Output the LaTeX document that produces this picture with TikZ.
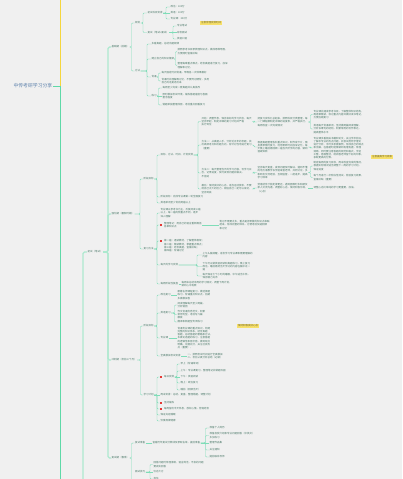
\documentclass[tikz,border=0pt]{standalone}
\usepackage{fontspec}
\newfontfamily\cjkf{Noto Sans CJK SC}
\usetikzlibrary{calc}
\definecolor{bgc}{HTML}{F0F0F0}
\definecolor{txt}{HTML}{4A7868}
\definecolor{lnk}{HTML}{7FDDB8}
\definecolor{trunk}{HTML}{5FD9A8}
\definecolor{pale}{HTML}{ADE9CF}
\definecolor{ylw}{HTML}{F5D63D}
\definecolor{noteY}{HTML}{F7E06A}
\definecolor{noteT}{HTML}{6E6432}
\definecolor{rootc}{HTML}{5E82AC}
\definecolor{mk}{HTML}{E53935}
\newcommand\smf{\cjkf\fontsize{2.5}{3.3}\selectfont}
\newcommand\lk[3]{\draw[conn] let \p1=(#1.east), \p2=(#3.west) in (\p1) -- (#2pt,\y1) -- (#2pt,\y2) -- (\p2);}
\newcommand\lkP[3]{\draw[paleline] let \p1=(#1.east), \p2=(#3.west) in (\p1) -- (#2pt,\y1) -- (#2pt,\y2) -- (\p2);}
\newcommand\lkS[2]{\draw[conn] (#1.east) -- (#2.west);}
\tikzset{
 tx/.style={font=\smf, text=txt, inner sep=0.3pt, anchor=west, align=left},
 conn/.style={draw=lnk, line width=0.4pt, rounded corners=1pt},
 yel/.style={font=\smf, fill=noteY, text=noteT, inner xsep=1.3pt, inner ysep=0.9pt},
 redsq/.style={fill=mk, minimum size=2.4pt, inner sep=0pt},
 rootst/.style={font=\cjkf\fontsize{4.85}{5.2}\selectfont, text=rootc, inner sep=0.3pt, anchor=west},
 paleline/.style={draw=pale, line width=1.3pt, rounded corners=1.5pt},
}
\begin{document}
\begin{tikzpicture}[x=1pt,y=-1pt]
\useasboundingbox (0,0) rectangle (402,479);
\fill[bgc] (0,0) rectangle (402,479);
\clip (0,0) rectangle (402,479);

% root and trunk
\node[rootst] (root) at (13,86) {中传考研学习分享};
\coordinate (ytop) at (60,0);
\coordinate (gbot) at (60,479);
\draw[draw=ylw, line width=0.8pt] (ytop) -- (ytop |- root.east);
\draw[draw=trunk, line width=0.8pt] (root.east) -- (gbot |- root.east) -- (gbot);

% level P and A
\node[tx] (P) at (87,252) {初试（笔试）};
\coordinate (pbot) at (83,479);
\draw[paleline] (pbot) |- (P.west);
\node[tx] (A1) at (111,47) {基础期（前期）};
\node[tx] (A2) at (111,214) {强化期（暑假时期）};
\node[tx] (A3) at (111,360) {冲刺期（考前三个月）};
\node[tx] (A4) at (111,458) {复试期（春季）};
\lkP{P}{108}{A1}
\lkP{P}{108}{A2}
\lkP{P}{108}{A3}
\lkP{P}{108}{A4}

% ===== A1 =====
\node[tx] (B1) at (134.5,23) {规划};
\node[tx] (B2) at (134.5,71) {方法};
\lk{A1}{131.5}{B1}
\lk{A1}{131.5}{B2}
\node[tx] (C1) at (147,13) {初试科目安排};
\node[tx] (C2) at (147,32.5) {复试（笔试+面试）};
\lk{B1}{143}{C1}
\lk{B1}{143}{C2}
\node[tx] (C1a) at (170,7) {政治：100分};
\node[tx] (C1b) at (170,13) {英语：100分};
\node[tx] (C1c) at (170,19) {专业课：300分};
\lk{C1}{166}{C1a}
\lkS{C1}{C1b}
\lk{C1}{166}{C1c}
\node[tx] (C2a) at (176.5,26) {专业笔试};
\node[tx] (C2b) at (176.5,32.5) {综合面试};
\node[tx] (C2c) at (176.5,39) {英语口语};
\lk{C2}{173}{C2a}
\lkS{C2}{C2b}
\lk{C2}{173}{C2c}
\node[yel] (N1) at (211,23) {注意合理安排时间};

\node[tx] (D1) at (151,44) {多看真题，总结出题规律};
\node[tx] (D2) at (151,59) {建立自己的知识框架};
\node[tx] (D3) at (151,77) {背诵};
\node[tx] (D4) at (151,96) {练习};
\lk{B2}{147}{D1}
\lk{B2}{147}{D2}
\lk{B2}{147}{D3}
\lk{B2}{147}{D4}
\node[tx] (D2a) at (177,51.5) {按照参考书目录梳理知识点，做成思维导图，\\方便随时查漏补缺};
\node[tx] (D2b) at (177,65.5) {整理每章重点难点，结合真题进行复习，加深\\理解和记忆。};
\lk{D2}{175.5}{D2a}
\lk{D2}{175.5}{D2b}
\node[tx] (D3a) at (161,73) {每天固定时间背诵，早晚各一次效果最好};
\node[tx] (D3b) at (161,81) {背诵时先理解再记忆，不要死记硬背，多用\\自己的话复述出来};
\lk{D3}{158.5}{D3a}
\lk{D3}{158.5}{D3b}
\node[tx] (D4a) at (162,88) {每周至少完成一套真题并认真批改};
\node[tx] (D4b) at (162,96) {限时模拟考试环境，锻炼答题速度与卷面\\整洁程度};
\node[tx] (D4c) at (162,105) {错题单独整理成册，考前重点回看复习};
\lk{D4}{158.5}{D4a}
\lkS{D4}{D4b}
\lk{D4}{158.5}{D4c}

% ===== A2 =====
\node[tx] (F1) at (143,179) {阶段目标};
\node[tx] (F2) at (143,249) {复习方法};
\lk{A2}{140}{F1}
\lk{A2}{140}{F2}
\node[tx] (G1) at (160,155) {目标、方法、时间、计划安排};
\node[tx] (G2) at (160,197) {阶段目标：完成专业课第一轮全面复习};
\node[tx] (G3) at (160,203) {英语单词至少背完两遍以上};
\lk{F1}{157}{G1}
\lk{F1}{157}{G2}
\lk{F1}{157}{G3}
\node[tx] (H1) at (201,121.5) {开始：调整作息，保持良好的学习状态，每天\\坚持早起，制定详细的复习计划并严格\\执行到位};
\node[tx] (H2) at (201,145) {方法一：从真题入手，分析近五年的考题，找\\出高频考点和出题方向，有针对性地进行复习\\（重要）};
\node[tx] (H3) at (201,173) {方法二：每天整理当天的学习内容，写学习日\\志，记录进度，及时发现问题并解决，\\不拖延};
\node[tx] (H4) at (201,189) {最后：保持良好的心态，适当运动放松，不要\\给自己太大的压力，相信自己一定可以成功，\\坚持到底};
\lk{G1}{198}{H1}
\lk{G1}{198}{H2}
\lk{G1}{198}{H3}
\lk{G1}{198}{H4}
\node[tx] (I1) at (257,122) {把复习资料汇总起来，按照科目分类整理，每\\一门课程都制定详细的进度表，并严格执行，\\每周检查一次完成情况};
\node[tx] (I2) at (257,147) {根据真题整理各科重点知识，制作成卡片，随\\身携带随时复习，利用零碎时间加深记忆，每\\天晚上睡前再回顾一遍当天所学的内容，做到\\温故知新};
\node[tx] (I3) at (257,172.5) {坚持每天复盘，发现问题及时解决，遇到不懂\\的地方请教学长学姐或者老师，共同讨论，多\\和研友交流经验，互相监督，一起进步，提高\\学习效率};
\node[tx] (I4) at (257,188) {劳逸结合才能走得更远，遇到困难时多和朋友\\家人交流沟通，调整好心态，保持积极乐观，\\（心态）};
\lk{H1}{254}{I1}
\lk{H2}{254}{I2}
\lk{H3}{254}{I3}
\lk{H4}{254}{I4}
\node[tx] (J1a) at (313,114.5) {专业课先通读参考书目，了解整体知识结构，\\再逐章精读，标记重点内容并做好读书笔记，\\方便后期复习};
\node[tx] (J1b) at (313,129) {英语每天背诵单词，坚持做两篇阅读理解，\\分析长难句的结构，积累常用的写作表达，\\提高整体水平};
\lk{I1}{310.5}{J1a}
\lk{I1}{310.5}{J1b}
\node[tx] (J2) at (313,148) {专业课多看相关书籍和论文，关注学术前沿，\\了解本专业的热点问题，并尝试用所学理论\\进行分析。平时多积累案例，形成自己的观点\\和见解，在答题时能够做到有理有据，条理\\清晰。同时要注意答题的规范和格式，字迹\\工整，卷面整洁，给阅卷老师留下好的印象，\\争取更高的分数。};
\lk{I2}{310.5}{J2}
\node[tx] (J3a) at (313,166) {制定每周的复习目标，周末检查完成的情况，\\根据实际情况适当调整下一周的学习计划，\\保证进度};
\node[tx] (J3b) at (313,177.5) {每个月进行一次阶段性测试，检验复习效果，\\查漏补缺（重要）};
\lk{I3}{310.5}{J3a}
\lk{I3}{310.5}{J3b}
\node[tx] (J4) at (313,188) {调整心态比单纯的学习更重要，加油。};
\lkS{I4}{J4}
\node[yel] (N2) at (382,157) {注意提高学习效率};

\node[tx] (G4) at (160,213) {专业课以参考书为主，反复阅读三遍\\以上，每一遍的侧重点不同，逐步\\深入理解};
\node[redsq] (q1) at (161,225) {};
\node[tx] (G5) at (163.5,225) {整理笔记：用自己的语言重新概括\\各章知识点};
\node[redsq] (q2) at (161,241) {};
\node[tx, anchor=north west] (G6) at (163.5,239.3) {第一遍：通读教材，了解整体框架；\\第二遍：精读教材，掌握重点难点；\\第三遍：结合真题，查漏补缺；\\第四遍：背诵记忆};
\node[tx] (G7) at (160,265) {每天的学习安排};
\node[tx] (G8) at (160,284) {每周阶段性复盘};
\lk{F2}{157}{G4}
\lk{F2}{157}{q1}
\lk{F2}{157}{q2}
\lk{F2}{157}{G7}
\lk{F2}{157}{G8}
\node[tx] (G5c) at (219,225) {笔记不需要太多，重点是把零散的知识点串联\\起来，形成完整的体系，方便考前快速回顾\\和记忆};
\lkS{G5}{G5c}
\node[tx] (G7a) at (202,255) {上午头脑清醒，适合学习专业课和需要理解的\\内容};
\node[tx] (G7b) at (202,266.5) {下午可以做英语阅读和真题练习，晚上复习\\政治，睡前再把当天学过的内容在脑中过一\\遍};
\node[tx] (G7c) at (202,276) {每天保证七个小时的睡眠，中午适当午休，\\保持精力充沛};
\lk{G7}{197}{G7a}
\lk{G7}{197}{G7b}
\lk{G7}{197}{G7c}
\node[tx] (G8c) at (181,284) {每周末总结本周的学习情况，调整下周计划，\\做到心中有数};
\lkS{G8}{G8c}

% ===== A3 =====
\node[tx] (K0) at (143,326) {阶段目标};
\node[tx] (L0) at (143,395) {学习计划};
\lk{A3}{140.5}{K0}
\lk{A3}{140.5}{L0}
\node[yel] (N3) at (248,326) {保持积极良好心态};
\node[tx] (K1) at (160,295) {政治复习};
\node[tx] (K2) at (160,313) {英语复习};
\node[tx] (K3) at (160,338) {专业课};
\node[tx] (K4) at (160,356) {全真模拟考试安排};
\lk{K0}{157}{K1}
\lk{K0}{157}{K2}
\lk{K0}{157}{K3}
\lk{K0}{157}{K4}
\node[tx] (K1c) at (177,295) {跟着名师课程复习，做选择题\\练习，背诵重点知识点，后期\\多做模拟卷};
\lkS{K1}{K1c}
\node[tx] (K2a) at (177,305) {阅读理解每天至少两篇，\\分析错因};
\node[tx] (K2b) at (177,314.5) {作文背诵优秀范文，积累\\常用句型，考前写几篇\\模板};
\node[tx] (K2c) at (177,322) {翻译和新题型专项练习};
\lk{K2}{174.5}{K2a}
\lk{K2}{174.5}{K2b}
\lk{K2}{174.5}{K2c}
\node[tx] (K3c) at (177,338) {背诵专业课的重点知识，构建\\完整的知识体系，结合真题\\答题，总结答题的套路和方法，\\多做论述题的练习，注意答题\\的逻辑性和层次感，做到观点\\明确、论据充分，关注社会热\\点（重要）。};
\lkS{K3}{K3c}
\node[tx] (K4c) at (187,356) {一、按照考试时间进行全真模拟\\二、考后认真分析总结（必做）};
\lkS{K4}{K4c}

\node[redsq] (q3) at (161,377) {};
\node[tx] (L1) at (163.5,377) {每日安排};
\node[tx] (L2) at (160,395) {周末安排：总结、复盘、整理错题、调整计划};
\node[redsq] (q4) at (161,403) {};
\node[tx] (L3) at (163.5,403) {坚持锻炼};
\node[redsq] (q5) at (161,409) {};
\node[tx] (L4) at (163.5,409) {每周留出半天休息，放松心情，劳逸结合};
\node[tx] (L5) at (160,415) {保证充足睡眠};
\node[tx] (L6) at (160,421) {饮食规律健康};
\lk{L0}{157}{q3}
\lkS{L0}{L2}
\lk{L0}{157}{q4}
\lk{L0}{157}{q5}
\lk{L0}{157}{L5}
\lk{L0}{157}{L6}
\node[tx] (L1a) at (180,364) {早上（背诵单词）};
\node[tx] (L1b) at (180,371) {上午：专业课复习，整理笔记并做题巩固};
\node[tx] (L1c) at (180,377) {下午：英语阅读};
\node[tx] (L1d) at (180,383) {晚上：政治复习};
\node[tx] (L1e) at (180,390) {睡前（回顾当天）};
\lk{L1}{177}{L1a}
\lk{L1}{177}{L1b}
\lkS{L1}{L1c}
\lk{L1}{177}{L1d}
\lk{L1}{177}{L1e}

% ===== A4 =====
\node[tx] (M1) at (134.5,443) {复试准备};
\node[tx] (M2) at (134.5,472) {面试技巧};
\coordinate (a4bot) at (131.5,495);
\draw[conn] (A4.east) -| (a4bot);
\lk{A4}{131.5}{M1}
\node[tx] (M1c) at (152,443) {查看历年复试分数线及录取名单，提前准备};
\lkS{M1}{M1c}
\node[tx] (M1a) at (209,428) {准备个人简历};
\node[tx] (M1b) at (209,435.5) {准备自我介绍和专业问题回答（中英文）\\多加练习};
\node[tx] (M1x) at (209,443) {整理作品集};
\node[tx] (M1d) at (209,450) {关注通知};
\node[tx] (M1e) at (209,457) {提前联系导师};
\lk{M1c}{205.5}{M1a}
\lk{M1c}{205.5}{M1b}
\lkS{M1c}{M1x}
\lk{M1c}{205.5}{M1d}
\lk{M1c}{205.5}{M1e}
\node[tx] (M2a) at (153,464.5) {回答问题时条理清晰，语言简洁，不会的问题\\要诚实回答};
\node[tx] (M2b) at (153,472) {仪态大方};
\node[tx] (M2c) at (153,479) {自信};
\lk{M2}{150}{M2a}
\lkS{M2}{M2b}
\lk{M2}{150}{M2c}
\end{tikzpicture}
\end{document}
